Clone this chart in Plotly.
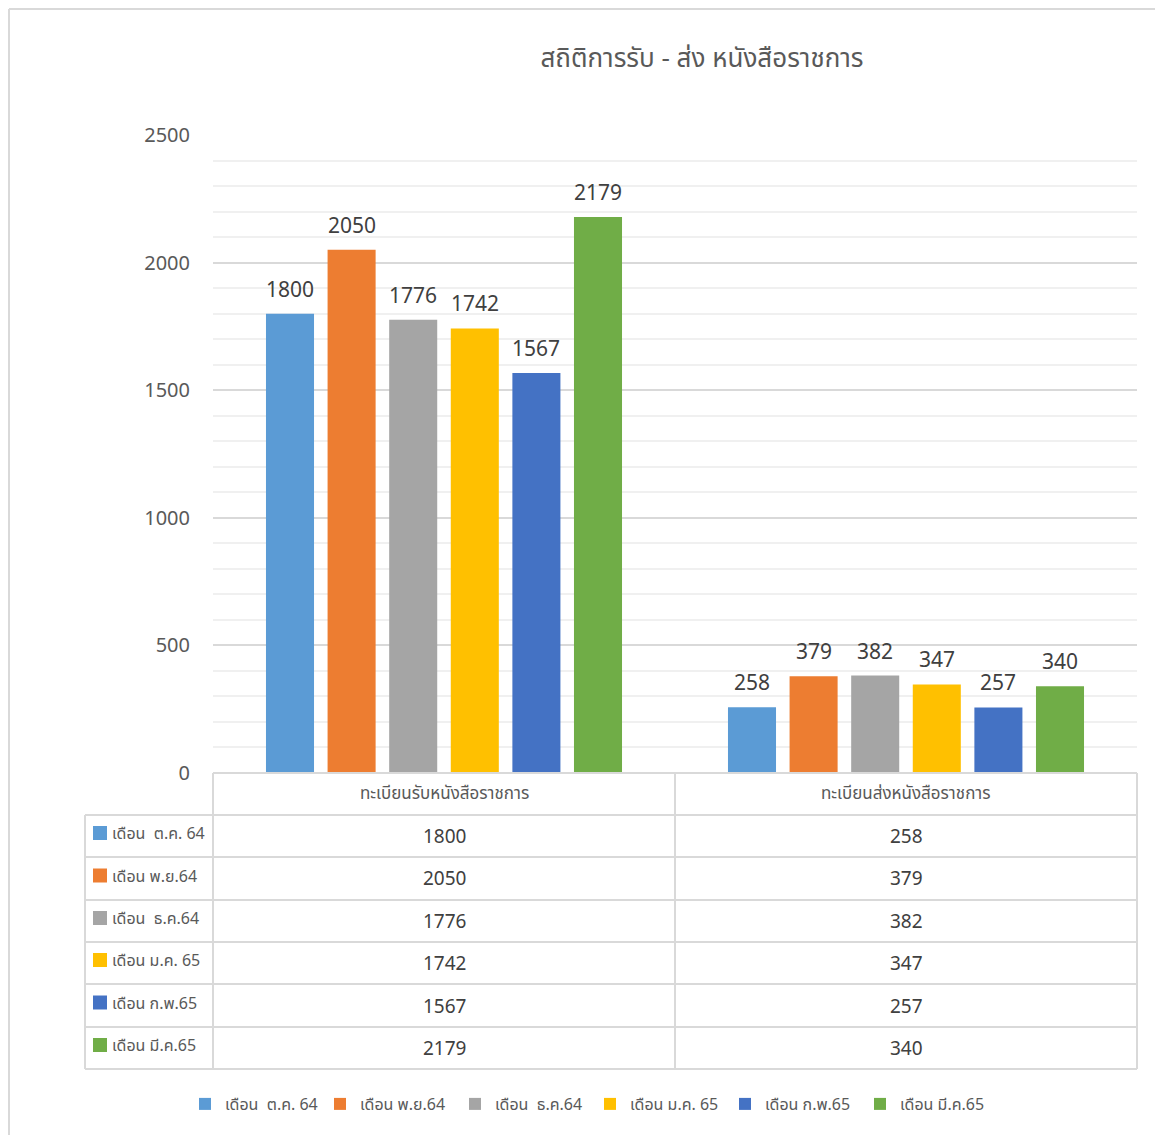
import plotly.graph_objects as go

title = "สถิติการรับ - ส่ง หนังสือราชการ"
categories = ["ทะเบียนรับหนังสือราชการ", "ทะเบียนส่งหนังสือราชการ"]
series_names = ["เดือน  ต.ค. 64", "เดือน พ.ย.64", "เดือน  ธ.ค.64", "เดือน ม.ค. 65", "เดือน ก.พ.65", "เดือน มี.ค.65"]
received = [1800, 2050, 1776, 1742, 1567, 2179]
sent = [258, 379, 382, 347, 257, 340]
colors = ["#5B9BD5", "#ED7D31", "#A5A5A5", "#FFC000", "#4472C4", "#70AD47"]
y_ticks = [0, 500, 1000, 1500, 2000, 2500]

OFF = 8  # page body margin
W, H = 1163, 1135
L = 213 - OFF
T = 135 - OFF
R = W - (1137 - OFF)
B = H - (773 - OFF)
PW, PH = W - L - R, H - T - B

def px_x(p):
    return (p - OFF - L) / PW

def px_y(p):
    return (H - B - (p - OFF)) / PH

FONT = "Noto Sans, Noto Sans Thai, sans-serif"
BARGAP = 0.2
n = len(series_names)
fig = go.Figure()
annotations = []
for i, name in enumerate(series_names):
    vals = [received[i], sent[i]]
    fig.add_trace(go.Bar(
        x=categories, y=vals, name=name,
        marker=dict(color=colors[i], line=dict(width=0)),
        cliponaxis=False,
    ))
    slot = (1 - BARGAP) / n
    for ci, v in enumerate(vals):
        annotations.append(dict(x=ci - (1 - BARGAP) / 2 + slot * (i + 0.5), xref="x", y=v, yref="y",
                                text=str(v), showarrow=False, yanchor="middle", yshift=25,
                                font=dict(size=21, color="#404040", family=FONT)))

shapes = []
lc = "#d9d9d9"
# outer chart border
shapes.append(dict(type="line", xref="paper", yref="paper", x0=px_x(9), x1=px_x(1180), y0=px_y(9), y1=px_y(9), line=dict(color=lc, width=2)))
shapes.append(dict(type="line", xref="paper", yref="paper", x0=px_x(9), x1=px_x(9), y0=px_y(9), y1=px_y(1150), line=dict(color=lc, width=2)))

row_bounds = [773, 815, 857, 900, 942, 984, 1027, 1069]
left_x = px_x(85)
shapes.append(dict(type="line", xref="paper", yref="paper", x0=0, x1=1, y0=0, y1=0, line=dict(color=lc, width=2)))
for rb in row_bounds[1:]:
    shapes.append(dict(type="line", xref="paper", yref="paper", x0=left_x, x1=1, y0=px_y(rb), y1=px_y(rb), line=dict(color=lc, width=2)))
for xv in [0, 0.5, 1]:
    shapes.append(dict(type="line", xref="paper", yref="paper", x0=xv, x1=xv, y0=0, y1=px_y(row_bounds[-1]), line=dict(color=lc, width=2)))
shapes.append(dict(type="line", xref="paper", yref="paper", x0=left_x, x1=left_x, y0=px_y(row_bounds[1]), y1=px_y(row_bounds[-1]), line=dict(color=lc, width=2)))

for c in categories:
    annotations.append(dict(x=c, xref="x", yref="paper", y=px_y((row_bounds[0] + row_bounds[1]) / 2 - 2),
                            text=c, showarrow=False, font=dict(size=17, color="#595959", family=FONT),
                            xanchor="center", yanchor="middle"))
for i, name in enumerate(series_names):
    yc = (row_bounds[i + 1] + row_bounds[i + 2]) / 2
    shapes.append(dict(type="rect", xref="paper", yref="paper", x0=px_x(93), x1=px_x(107),
                       y0=px_y(yc - 10), y1=px_y(yc + 4), fillcolor=colors[i], line=dict(width=0)))
    annotations.append(dict(x=px_x(110), xref="paper", yref="paper", y=px_y(yc - 3), text=name,
                            showarrow=False, font=dict(size=16, color="#595959", family=FONT),
                            xanchor="left", yanchor="middle"))
    for c, v in zip(categories, [received[i], sent[i]]):
        annotations.append(dict(x=c, xref="x", yref="paper", y=px_y(yc), text=str(v),
                                showarrow=False, font=dict(size=19, color="#404040", family=FONT),
                                xanchor="center", yanchor="middle"))

fig.update_layout(
    width=W, height=H, autosize=False,
    margin=dict(l=L, r=R, t=T, b=B, pad=0),
    paper_bgcolor="white", plot_bgcolor="white",
    font=dict(family=FONT, color="#595959"),
    title=dict(text=title, x=(702 - OFF) / W, xanchor="center", y=1 - (58 - OFF) / H, yanchor="middle",
               font=dict(size=26, color="#595959", family=FONT)),
    barmode="group", bargap=BARGAP, bargroupgap=0.22,
    showlegend=True,
    legend=dict(orientation="h", x=px_x(590), xanchor="center", y=px_y(1104), yanchor="middle",
                font=dict(size=16, color="#595959", family=FONT), itemclick=False,
                traceorder="normal", entrywidth=90, itemwidth=30),
    shapes=shapes, annotations=annotations,
)
fig.update_xaxes(showticklabels=False, showgrid=False, showline=False, zeroline=False, ticks="")
fig.update_yaxes(range=[0, 2500], tickvals=y_ticks, showgrid=True, gridcolor="#d9d9d9", gridwidth=2,
                 minor=dict(dtick=100, showgrid=True, gridcolor="#f0f0f0", gridwidth=2),
                 zeroline=False, showline=False, ticks="",
                 tickfont=dict(size=20, color="#595959", family=FONT), ticklabelstandoff=22)

fig.write_html("out.html")
